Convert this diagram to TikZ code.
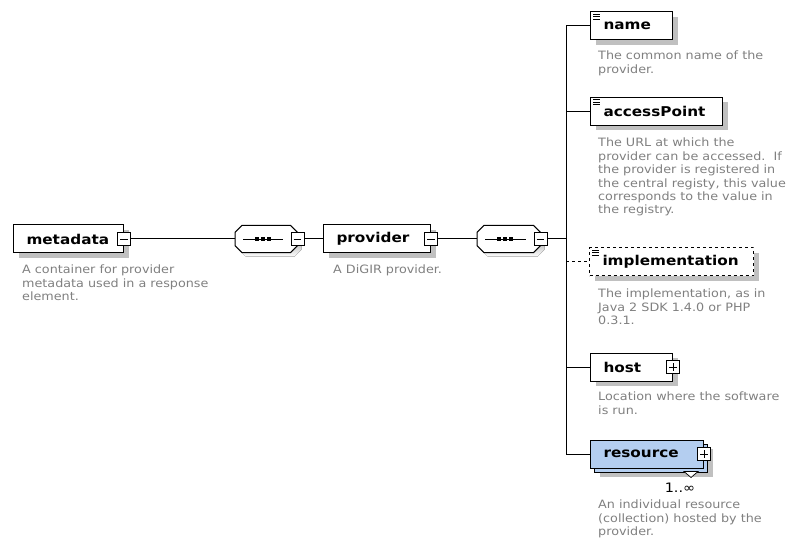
\documentclass[tikz,border=0pt]{standalone}
\usepackage{fontspec}
\setmainfont{DejaVu Sans}
\newfontfamily\descfont[FakeStretch=1.11]{DejaVu Sans}
\newfontfamily\tagfont[FakeStretch=1.13]{DejaVu Sans}
\usetikzlibrary{shadows,calc}
\definecolor{desc}{RGB}{128,128,128}
\definecolor{shade}{RGB}{192,192,192}
\definecolor{resfill}{RGB}{180,206,240}

% octagonal sequence compositor outline around node #1, offset by (#2,#3)
\newcommand\octpath[3]{%
  ($(#1.north west)+(7+#2,#3)$) -- ($(#1.north east)+(-7+#2,#3)$) --
  ($(#1.north east)+(#2,7+#3)$) -- ($(#1.south east)+(#2,-7+#3)$) --
  ($(#1.south east)+(-7+#2,#3)$) -- ($(#1.south west)+(7+#2,#3)$) --
  ($(#1.south west)+(#2,-7+#3)$) -- ($(#1.north west)+(#2,7+#3)$) -- cycle}

\tikzset{
  elem/.style={draw, line width=1pt, fill=white, anchor=west,
    minimum height=28pt, inner xsep=13pt, inner ysep=0pt, align=left,
    font=\tagfont\bfseries\fontsize{13.5}{14}\selectfont},
  shadowed/.style={drop shadow={shadow xshift=5pt, shadow yshift=-5pt,
    fill=shade, opacity=1}},
  note/.style={anchor=north west, inner sep=0pt, align=left, text=desc,
    font=\descfont\fontsize{11.5}{13.4}\selectfont},
  tog/.style={draw, line width=0.8pt, fill=white, minimum size=13pt,
    inner sep=0pt},
  collapse/.style={tog, path picture={
    \draw[line width=0.8pt]
      ([xshift=-3.8pt]path picture bounding box.center) --
      ([xshift=3.8pt]path picture bounding box.center);}},
  expand/.style={tog, path picture={
    \draw[line width=0.8pt]
      ([xshift=-3.8pt]path picture bounding box.center) --
      ([xshift=3.8pt]path picture bounding box.center)
      ([yshift=-3.8pt]path picture bounding box.center) --
      ([yshift=3.8pt]path picture bounding box.center);}},
  conn/.style={line width=1pt},
  seqbox/.style={rectangle, minimum width=62pt, minimum height=27pt,
    inner sep=0pt, anchor=west},
}

% small "simple content" mark in the top left corner of a box
\newcommand\textmark[1]{%
  \foreach \d in {2.5,5,7.5}
    \draw[line width=0.6pt] ($(#1.north west)+(3,\d)$) -- ++(7,0);}

% line with three dots inside a sequence compositor
\newcommand\seqmark[1]{%
  \draw[line width=0.9pt] ($(#1.west)+(8,0)$) -- ($(#1.east)+(-14,0)$);
  \foreach \o in {-6,0,6}
    \fill ($(#1.west)+(28+\o-1.7,-1.7)$) rectangle ++(3.4,3.4);}

\begin{document}
\begin{tikzpicture}[x=1pt,y=-1pt]
\useasboundingbox (0,0) rectangle (792,545);

% ---------- main axis ----------
\node[elem, shadowed, minimum width=110pt, text width=84pt] (md) at (13,239) {metadata};
\node[collapse] (mdq) at (md.east) {};
\node[note] (mdn) at (22,265) {A container for provider\\metadata used in a response\\element.};

\node[seqbox] (s1) at (235,239) {};
\fill[shade] \octpath{s1}{4}{4};
\filldraw[fill=white, line width=1pt] \octpath{s1}{0}{0};
\seqmark{s1}
\node[collapse] (s1q) at (s1.east) {};

\node[elem, shadowed, minimum width=107pt, text width=81pt] (pv) at (323,239) {provider};
\node[collapse] (pvq) at (pv.east) {};
\node[note] (pvn) at (333,265) {A DiGIR provider.};

\node[seqbox, minimum width=63pt] (s2) at (477,239) {};
\fill[shade] \octpath{s2}{4}{4};
\filldraw[fill=white, line width=1pt] \octpath{s2}{0}{0};
\seqmark{s2}
\node[collapse] (s2q) at (s2.east) {};

\draw[conn] (mdq.east) -- (s1.west);
\draw[conn] (s1q.east) -- (pv.west);
\draw[conn] (pvq.east) -- (s2.west);

% ---------- children of provider ----------
\node[elem, shadowed, minimum width=82pt, text width=56pt] (nm) at (590,26) {name};
\textmark{nm}
\node[note] (nmn) at (598,51) {The common name of the\\provider.};

\node[elem, shadowed, minimum width=132pt, text width=106pt] (ap) at (590,111.5) {accessPoint};
\textmark{ap}
\node[note] (apn) at (598,138) {The URL at which the\\provider can be accessed.\ \ If\\the provider is registered in\\the central registy, this value\\corresponds to the value in\\the registry.};

\node[elem, shadowed, dashed, minimum width=164pt, text width=138pt] (im) at (589,262) {implementation};
\textmark{im}
\node[note] (imn) at (598,289) {The implementation, as in\\Java 2 SDK 1.4.0 or PHP\\0.3.1.};

\node[elem, shadowed, minimum width=82pt, text width=56pt] (hs) at (590,367) {host};
\node[expand] (hsq) at (hs.east) {};
\node[note] (hsn) at (598,392) {Location where the software\\is run.};

\node[elem, shadowed, fill=resfill, minimum width=113pt, text width=87pt] (rsb) at (594,458) {\phantom{resource}};
\node[elem, fill=resfill, minimum width=113pt, text width=87pt] (rs) at (590,454) {resource};
\node[expand] (rsq) at (rs.east) {};
\filldraw[fill=white, line width=0.7pt] ($(rsb.south east)+(-24,-1)$) -- ++(14,0) -- ++(-7,6) -- cycle;
\node[font=\descfont\fontsize{13}{14}\selectfont, inner sep=0pt] (mult) at (680,488) {1..∞};
\node[note] (rsn) at (598,500) {An individual resource\\(collection) hosted by the\\provider.};

% ---------- trunk and branches ----------
\coordinate (tr) at (566,239);
\draw[conn] (s2q.east) -- (tr);
\draw[conn] (tr |- nm.west) -- (tr |- rs.west);
\draw[conn] (tr |- nm.west) -- (nm.west);
\draw[conn] (tr |- ap.west) -- (ap.west);
\draw[conn, dashed] (tr |- im.west) -- (im.west);
\draw[conn] (tr |- hs.west) -- (hs.west);
\draw[conn] (tr |- rs.west) -- (rs.west);
\end{tikzpicture}
\end{document}
